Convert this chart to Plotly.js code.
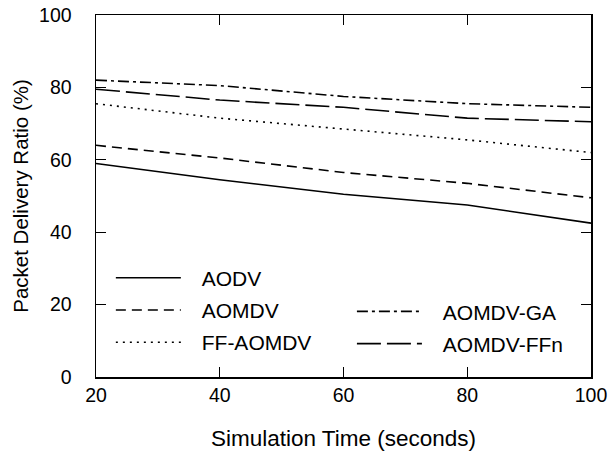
<!DOCTYPE html>
<html>
<head>
<meta charset="utf-8">
<script src="https://cdn.plot.ly/plotly-3.0.1.min.js"></script>
<style>html,body{margin:0;padding:0;background:#fff;}</style>
</head>
<body>
<div id="chart" style="width:610px;height:460px;"></div>
<script>
const simTime = [20, 40, 60, 80, 100];
const aodv = [59, 54.5, 50.5, 47.5, 42.5];
const aomdv = [64, 60.5, 56.5, 53.5, 49.5];
const ffAomdv = [75.5, 71.5, 68.5, 65.5, 62];
const aomdvGa = [82, 80.5, 77.5, 75.5, 74.5];
const aomdvFfn = [79.5, 76.5, 74.5, 71.5, 70.5];

const font = {family: 'Liberation Sans, Arial, sans-serif', color: '#000'};
const pad = '\u00a0\u00a0\u2009';
function tr(y, name, dash, legend) {
  return {x: simTime, y: y, name: pad + name, type: 'scatter', mode: 'lines',
    line: {color: '#000', width: 1.6, dash: dash}, legend: legend, legendgroup: name};
}
const data = [
  tr(aodv, 'AODV', 'solid', 'legend'),
  tr(aomdv, 'AOMDV', '10px,6px', 'legend'),
  tr(ffAomdv, 'FF-AOMDV', '2px,5px', 'legend'),
  tr(aomdvGa, 'AOMDV-GA', '11px,4px,3px,4px', 'legend2'),
  tr(aomdvFfn, 'AOMDV-FFn', '24px,6px', 'legend2')
];
const legBase = {bgcolor: 'rgba(0,0,0,0)', borderwidth: 0, font: Object.assign({size: 21}, font),
  itemwidth: 65, tracegroupgap: 2, xanchor: 'left', yanchor: 'top', itemclick: false};
const layout = {
  width: 610, height: 460,
  margin: {l: 96, r: 19, t: 15, b: 83},
  paper_bgcolor: '#fff', plot_bgcolor: '#fff',
  font: Object.assign({size: 20}, font),
  showlegend: true,
  legend: Object.assign({}, legBase, {x: 0.03, y: 0.33}),
  legend2: Object.assign({}, legBase, {x: 0.517, y: 0.237}),
  xaxis: {range: [20, 100], tickvals: [20, 40, 60, 80, 100], ticks: 'inside', ticklen: 10,
    tickcolor: '#000', tickwidth: 1, showline: true, linecolor: '#000', linewidth: 1.5,
    mirror: 'ticks', showgrid: false, zeroline: false, tickfont: {size: 19.5},
    title: {text: 'Simulation Time (seconds)', font: {size: 22.5}, standoff: 25}},
  yaxis: {range: [0, 100], tickvals: [0, 20, 40, 60, 80, 100], ticks: 'inside', ticklen: 10,
    tickcolor: '#000', tickwidth: 1, showline: true, linecolor: '#000', linewidth: 1.5,
    mirror: 'ticks', showgrid: false, zeroline: false, tickfont: {size: 19.5}, ticklabelstandoff: 19,
    title: {text: 'Packet Delivery Ratio (%)', font: {size: 20.5}, standoff: 5}}
};
Plotly.newPlot('chart', data, layout, {displayModeBar: false, staticPlot: true});
</script>
</body>
</html>
